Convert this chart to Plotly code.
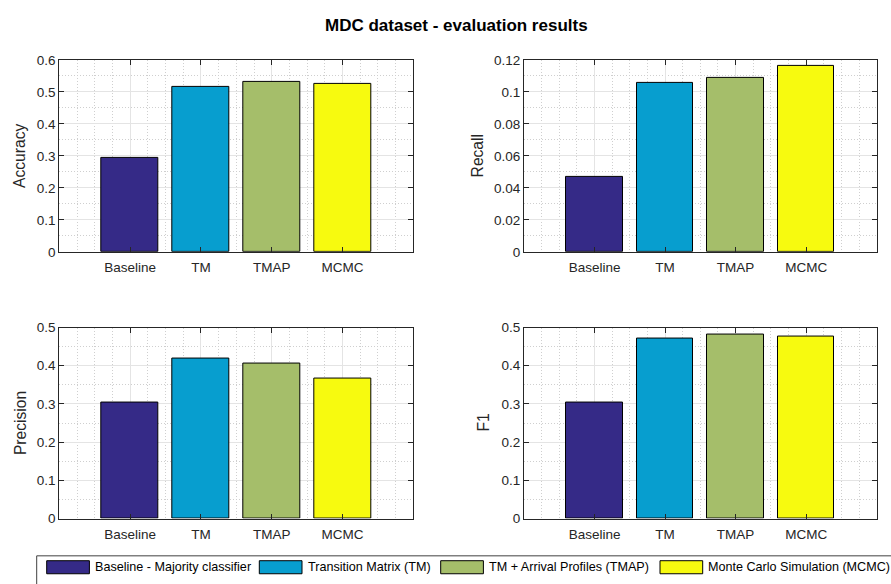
import plotly.graph_objects as go

# ---- data ----
categories = ["Baseline", "TM", "TMAP", "MCMC"]
accuracy = [0.293, 0.515, 0.531, 0.525]
recall = [0.0469, 0.1056, 0.1088, 0.1161]
precision = [0.3036, 0.4184, 0.4048, 0.3665]
f1 = [0.3036, 0.4711, 0.4813, 0.4753]
legend_names = ["Baseline - Majority classifier", "Transition Matrix (TM)",
                "TM + Arrival Profiles (TMAP)", "Monte Carlo Simulation (MCMC)"]
bar_colors = ["#352A87", "#079ECF", "#A5BE6A", "#F7FA0F"]

acc_ticks = [0, 0.1, 0.2, 0.3, 0.4, 0.5, 0.6]
acc_labels = ["0", "0.1", "0.2", "0.3", "0.4", "0.5", "0.6"]
rec_ticks = [0, 0.02, 0.04, 0.06, 0.08, 0.1, 0.12]
rec_labels = ["0", "0.02", "0.04", "0.06", "0.08", "0.1", "0.12"]
pf_ticks = [0, 0.1, 0.2, 0.3, 0.4, 0.5]
pf_labels = ["0", "0.1", "0.2", "0.3", "0.4", "0.5"]

W, H = 891, 584
FONT = "Liberation Sans, Arial, Helvetica, sans-serif"
AX = "#262626"

panels = [
    # (values, ytitle, yrange, tickvals, ticktext, minor dtick, xdomain px, ydomain px, ytitle x px)
    (accuracy, "Accuracy", [0, 0.6], acc_ticks, acc_labels, 0.05, (59.3, 413.3), (54.3, 251.3), 20),
    (recall, "Recall", [0, 0.12], rec_ticks, rec_labels, 0.01, (524, 876.7), (54.3, 251.3), 477.5),
    (precision, "Precision", [0, 0.5], pf_ticks, pf_labels, 0.05, (59.3, 413.3), (329, 525), 20),
    (f1, "F1", [0, 0.5], pf_ticks, pf_labels, 0.05, (524, 876.7), (329, 525), 483.5),
]

fig = go.Figure()
annotations = []
layout = {}
xpos = list(range(1, len(categories) + 1))

for i, (vals, ytitle, yr, tv, tt, mdt, xd, yd, ytx) in enumerate(panels):
    n = "" if i == 0 else str(i + 1)
    fig.add_trace(go.Bar(
        x=xpos, y=vals, width=0.8,
        marker=dict(color=bar_colors, line=dict(color="#000000", width=1)),
        xaxis="x" + n, yaxis="y" + n, showlegend=False, hoverinfo="y",
    ))
    common = dict(
        showline=True, linecolor=AX, linewidth=1, mirror="ticks",
        ticks="inside", ticklen=5, tickcolor=AX, tickwidth=1,
        showgrid=True, gridcolor="#E4E4E4", gridwidth=1,
        zeroline=False, tickfont=dict(family=FONT, size=13.5, color=AX),
        fixedrange=True,
    )
    minor = dict(showgrid=True, gridcolor="#CFCFCF", griddash="1px,2px",
                 gridwidth=1, ticks="")
    layout["xaxis" + n] = dict(
        common, domain=[xd[0] / W, xd[1] / W], range=[0, 5],
        tickmode="array", tickvals=xpos, ticktext=categories,
        anchor="y" + n, ticklabelstandoff=3,
        minor=dict(minor, dtick=0.25, tick0=0),
    )
    layout["yaxis" + n] = dict(
        common, domain=[1 - yd[1] / H, 1 - yd[0] / H], range=yr,
        tickmode="array", tickvals=tv, ticktext=tt,
        anchor="x" + n,
        minor=dict(minor, dtick=mdt, tick0=0),
    )
    annotations.append(dict(
        text=ytitle, x=ytx / W, y=1 - (yd[0] + yd[1]) / 2 / H,
        xref="paper", yref="paper", textangle=-90, showarrow=False,
        xanchor="center", yanchor="middle",
        font=dict(family=FONT, size=15.6, color=AX),
    ))

# title
annotations.append(dict(
    text="<b>MDC dataset - evaluation results</b>", x=456.7 / W, y=1 - 19 / H,
    xref="paper", yref="paper", showarrow=False, xanchor="center", yanchor="middle",
    font=dict(family=FONT, size=17, color="#000000"),
))

# custom legend (wide swatches like the original)
legend_box = (36.7, 563.3)
swatch_x = [46.7, 259.3, 440.7, 660.0]
swatch_w, swatch_y0, swatch_y1 = 42.7, 568.3, 581.7
shapes = [dict(type="rect", xref="paper", yref="paper",
               x0=legend_box[0] / W, x1=1.02, y0=-0.05, y1=1 - legend_box[1] / H,
               line=dict(color="#404040", width=1), fillcolor="rgba(0,0,0,0)")]
for sx, name, col in zip(swatch_x, legend_names, bar_colors):
    shapes.append(dict(type="rect", xref="paper", yref="paper",
                       x0=sx / W, x1=(sx + swatch_w) / W,
                       y0=1 - swatch_y1 / H, y1=1 - swatch_y0 / H,
                       line=dict(color="#000000", width=1), fillcolor=col))
    annotations.append(dict(
        text=name, x=(sx + swatch_w + 3.5) / W, y=1 - (swatch_y0 + swatch_y1) / 2 / H,
        xref="paper", yref="paper", showarrow=False, xanchor="left", yanchor="middle",
        font=dict(family=FONT, size=12.6, color="#000000"),
    ))

fig.update_layout(
    width=W, height=H, margin=dict(l=0, r=0, t=0, b=0),
    paper_bgcolor="white", plot_bgcolor="white",
    annotations=annotations, shapes=shapes, bargap=0, **layout,
)

fig.write_html("out.html", config={"displayModeBar": False})
